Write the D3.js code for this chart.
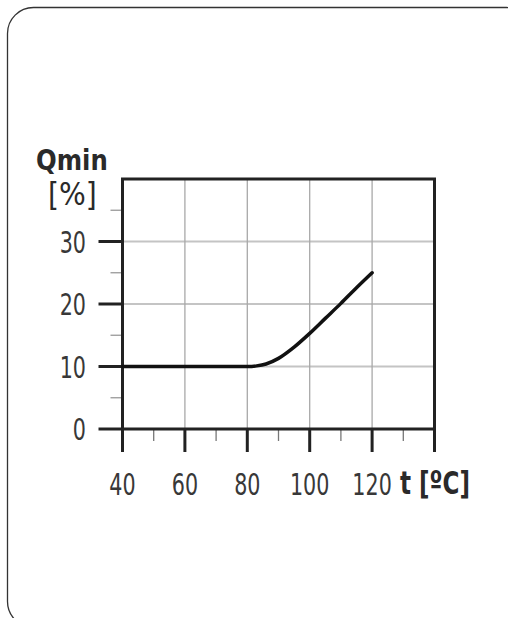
<!DOCTYPE html>
<html><head><meta charset="utf-8">
<script src="https://cdn.jsdelivr.net/npm/d3@7"></script>
<style>body{margin:0;background:#fff}svg{display:block}text{font-family:"DejaVu Sans",sans-serif}</style>
</head><body>
<script>
const tempValues = [40, 80, 83, 86, 90, 95, 100, 105, 110, 115, 120];
const qminValues = [10, 10, 10.1, 10.4, 11.3, 13.1, 15.3, 17.7, 20.1, 22.6, 25];
const xTicks = [40, 60, 80, 100, 120, 140];
const xTickLabels = ["40", "60", "80", "100", "120"];
const xMinor = [50, 70, 90, 110, 130];
const yTicks = [0, 10, 20, 30];
const yMinor = [5, 15, 25, 35];

const W = 508, H = 618;
const svg = d3.select("body").append("svg").attr("width", W).attr("height", H);

// frame
svg.append("rect").attr("x", 7.5).attr("y", 7.5).attr("width", 525).attr("height", 620)
  .attr("rx", 26).attr("fill", "none").attr("stroke", "#333").attr("stroke-width", 1.3);

const x = d3.scaleLinear().domain([40, 140]).range([122.5, 434.5]);
const y = d3.scaleLinear().domain([0, 40]).range([429, 179]);

const g = svg.append("g");
// gridlines
g.selectAll(".hg").data([10, 20, 30]).join("line")
  .attr("x1", x(40)).attr("x2", x(140)).attr("y1", d => y(d)).attr("y2", d => y(d))
  .attr("stroke", "#c4c4c4").attr("stroke-width", 2);
g.selectAll(".vg").data([60, 80, 100, 120]).join("line")
  .attr("y1", y(0)).attr("y2", y(40)).attr("x1", d => x(d)).attr("x2", d => x(d))
  .attr("stroke", "#a8a8a8").attr("stroke-width", 1.3);

// minor ticks
g.selectAll(".ym").data(yMinor).join("line")
  .attr("x1", x(40) - 12).attr("x2", x(40)).attr("y1", d => y(d)).attr("y2", d => y(d))
  .attr("stroke", "#999").attr("stroke-width", 1.3);
g.selectAll(".xm").data(xMinor).join("line")
  .attr("y1", y(0)).attr("y2", y(0) + 12).attr("x1", d => x(d)).attr("x2", d => x(d))
  .attr("stroke", "#777").attr("stroke-width", 1.3);

// major ticks
g.selectAll(".yM").data(yTicks).join("line")
  .attr("x1", x(40) - 24).attr("x2", x(40)).attr("y1", d => y(d)).attr("y2", d => y(d))
  .attr("stroke", "#222").attr("stroke-width", 3);
g.selectAll(".xM").data(xTicks).join("line")
  .attr("y1", y(0)).attr("y2", y(0) + 23).attr("x1", d => x(d)).attr("x2", d => x(d))
  .attr("stroke", "#222").attr("stroke-width", 3);

// frame of plot
g.append("path")
  .attr("d", `M${x(40)},${y(0)}V${y(40)}H${x(140)}V${y(0)}Z`)
  .attr("fill", "none").attr("stroke", "#222").attr("stroke-width", 3);

// labels (condensed via horizontal scale)
g.selectAll(".yl").data(yTicks).join("text")
  .attr("transform", d => `translate(86,${y(d) + 11}) scale(0.69,1)`)
  .attr("text-anchor", "end")
  .attr("font-size", 30).attr("fill", "#383838").text(d => d);
g.selectAll(".xl").data(xTickLabels).join("text")
  .attr("transform", d => `translate(${x(+d)},495) scale(0.69,1)`)
  .attr("text-anchor", "middle")
  .attr("font-size", 30).attr("fill", "#383838").text(d => d);

svg.append("text").attr("transform", "translate(36,170) scale(0.84,1)")
  .attr("font-size", 29).attr("font-weight", "bold").attr("fill", "#2a2a2a").text("Qmin");
svg.append("text").attr("transform", "translate(48,205) scale(0.88,1)")
  .attr("font-size", 32).attr("fill", "#2a2a2a").text("[%]");
svg.append("text").attr("transform", "translate(400,493.5) scale(0.72,1)")
  .attr("font-size", 32).attr("font-weight", "bold").attr("fill", "#2a2a2a").text("t [ºC]");

// curve
const data = tempValues.map((t, i) => [t, qminValues[i]]);
svg.append("path").datum(data)
  .attr("d", d3.line().x(d => x(d[0])).y(d => y(d[1])).curve(d3.curveMonotoneX))
  .attr("fill", "none").attr("stroke", "#111").attr("stroke-width", 3.5).attr("stroke-linecap", "round");
</script>
</body></html>
